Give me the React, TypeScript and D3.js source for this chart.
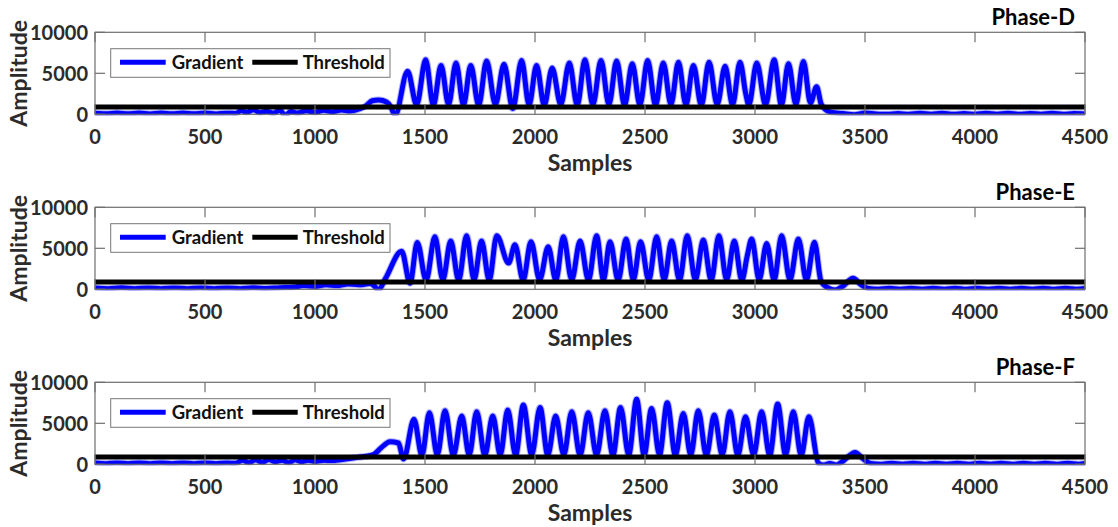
import React from 'react';
import * as d3 from 'd3';

// Axis ticks and reference level
const SAMPLE_TICKS = [0, 500, 1000, 1500, 2000, 2500, 3000, 3500, 4000, 4500];
const AMPLITUDE_TICKS = [0, 5000, 10000];
const THRESHOLD = 900;
const PHASE_NAMES = ['Phase-D', 'Phase-E', 'Phase-F'];

type Pt = [number, number];

// Gradient of the phase-D signal: [sample, amplitude]
const phaseD: Pt[] = [
  [0, 120], [50, 60], [100, 160], [150, 60], [200, 150], [250, 50], [300, 150], [350, 60],
  [400, 160], [450, 60], [500, 150], [550, 50], [600, 140], [640, 100], [665, 450], [690, 250],
  [720, 550], [750, 200], [780, 380], [810, 120], [840, 500], [865, -150], [890, 350], [920, 150],
  [960, 420], [1000, 250], [1040, 480], [1080, 300], [1120, 520], [1160, 400], [1200, 650],
  [1230, 1000], [1260, 1650], [1290, 1750], [1325, 1500], [1345, 900], [1364, -150],
  [1421, 5250], [1462, 1150], [1503, 6650], [1538, 1100], [1573, 5950], [1607, 1200],
  [1641, 6250], [1675, 1150], [1708, 5950], [1744, 1100], [1780, 6500], [1820, 1200],
  [1859, 6100], [1899, 700], [1939, 6550], [1973, 1150], [2007, 5950], [2042, 1100],
  [2078, 5650], [2117, 1200], [2156, 6250], [2192, 1100], [2227, 6650], [2263, 1150],
  [2300, 6550], [2336, 1200], [2371, 6500], [2407, 1100], [2442, 6150], [2477, 1150],
  [2512, 6550], [2548, 1100], [2583, 6250], [2618, 1200], [2652, 6350], [2686, 1150],
  [2720, 5950], [2756, 1100], [2791, 6350], [2828, 1200], [2864, 5850], [2898, 1150],
  [2932, 6350], [2958, 2500], [2972, 1150], [3008, 6250], [3048, 1150], [3087, 6650],
  [3120, 1100], [3152, 6150], [3186, 1200], [3220, 6450], [3252, 1400], [3280, 3350],
  [3300, 1300], [3320, 600], [3345, 250], [3400, 100], [3450, -50], [3500, 150], [3550, 50],
  [3600, 0], [3650, 100], [3700, 0], [3750, 120], [3800, 20], [3850, 130], [3900, 0],
  [3950, 100], [4000, 0], [4050, 120], [4100, 20], [4150, 120], [4200, 0], [4250, 100],
  [4300, 20], [4350, 120], [4400, 0], [4450, 100], [4500, 50],
];

// Gradient of the phase-E signal
const phaseE: Pt[] = [
  [0, 150], [60, 80], [120, 180], [180, 80], [240, 170], [300, 70], [360, 160], [420, 80],
  [480, 170], [540, 70], [600, 160], [660, 80], [720, 180], [780, 100], [840, 200], [900, 250],
  [950, 450], [1000, 350], [1050, 550], [1100, 450], [1150, 650], [1200, 550], [1250, 700],
  [1270, 400], [1288, -100], [1320, 1300], [1394, 4650], [1432, 750], [1465, 5720],
  [1505, 1100], [1545, 6400], [1581, 1150], [1617, 5880], [1653, 1100], [1689, 6530],
  [1723, 1150], [1757, 5880], [1792, 1100], [1826, 6530], [1880, 3200], [1909, 5430],
  [1946, 1100], [1982, 5800], [2021, 1150], [2060, 5190], [2095, 1100], [2129, 6410],
  [2167, 1150], [2205, 5880], [2243, 1100], [2280, 6530], [2311, 1150], [2341, 5800],
  [2378, 1100], [2414, 6130], [2447, 1150], [2480, 5800], [2517, 1100], [2553, 6410],
  [2587, 1150], [2621, 5880], [2657, 1100], [2692, 6530], [2729, 1150], [2765, 6000],
  [2801, 1100], [2836, 6530], [2871, 1150], [2906, 5880], [2940, 1100], [2965, 4100],
  [2985, 6130], [3019, 1150], [3053, 5600], [3087, 1100], [3121, 6530], [3159, 1150],
  [3197, 6130], [3234, 1100], [3270, 5750], [3300, 1000], [3330, 200], [3364, -100],
  [3400, 400], [3446, 1350], [3480, 600], [3515, 100], [3560, 0], [3610, 120], [3660, 20],
  [3710, 130], [3760, 10], [3810, 120], [3860, 20], [3910, 130], [3960, 0], [4010, 120],
  [4060, 20], [4110, 130], [4160, 10], [4210, 120], [4260, 20], [4310, 130], [4360, 0],
  [4410, 120], [4460, 20], [4500, 100],
];

// Gradient of the phase-F signal
const phaseF: Pt[] = [
  [0, 150], [50, 80], [100, 170], [150, 70], [200, 160], [250, 70], [300, 170], [350, 80],
  [400, 160], [450, 70], [500, 170], [550, 80], [600, 160], [640, 120], [670, 500], [700, 200],
  [730, 550], [760, 250], [790, 600], [820, 300], [850, 500], [880, 200], [910, 550],
  [940, 300], [970, 500], [1000, 350], [1040, 500], [1080, 450], [1114, 560], [1180, 800],
  [1265, 1170], [1300, 2000], [1341, 2750], [1379, 2600], [1403, 650], [1450, 5480],
  [1486, 1100], [1520, 6290], [1556, 1150], [1591, 6530], [1629, 1100], [1667, 5880],
  [1701, 1150], [1735, 6410], [1772, 1100], [1808, 5880], [1842, 1150], [1876, 6610],
  [1912, 1100], [1947, 7230], [1985, 1150], [2023, 6940], [2058, 1100], [2094, 5880],
  [2131, 1150], [2167, 6410], [2205, 1100], [2242, 6290], [2280, 1150], [2318, 6530],
  [2354, 1100], [2389, 6940], [2426, 1150], [2462, 7920], [2496, 1100], [2530, 6820],
  [2566, 1150], [2601, 7510], [2638, 1100], [2674, 6200], [2708, 1150], [2742, 6530],
  [2779, 1100], [2815, 6000], [2851, 1150], [2886, 6410], [2922, 1100], [2957, 5800],
  [2994, 1150], [3030, 6410], [3067, 1100], [3103, 7350], [3139, 1150], [3174, 6410],
  [3210, 1100], [3245, 5800], [3288, 150], [3310, -100], [3340, 100], [3370, -80],
  [3400, 400], [3455, 1450], [3490, 700], [3525, 100], [3570, 0], [3620, 130], [3670, 20],
  [3720, 120], [3770, 0], [3820, 130], [3870, 20], [3920, 120], [3970, 0], [4020, 130],
  [4070, 20], [4120, 120], [4170, 0], [4220, 130], [4270, 20], [4320, 120], [4370, 0],
  [4420, 130], [4470, 20], [4500, 100],
];

const SERIES: Pt[][] = [phaseD, phaseE, phaseF];

const W = 1118;
const H = 527;
const LEFT = 95;
const RIGHT = 1085;
const TOP0 = 32.3;
const PANEL_H = 82;
const STEP = 175;
const FONT = 'Lato, "Open Sans", sans-serif';
const AXIS_COLOR = '#6e6e6e';
const TEXT_COLOR = '#2b2b2b';
const TICK_LEN = 10;

function Panel({ index }: { index: number }) {
  const top = TOP0 + index * STEP;
  const bottom = top + PANEL_H;
  const data = SERIES[index];
  const x = d3.scaleLinear().domain([0, 4500]).range([LEFT, RIGHT]);
  const y = d3.scaleLinear().domain([0, 10000]).range([bottom, top]);
  const line = d3
    .line<Pt>()
    .x((d) => x(d[0]))
    .y((d) => y(d[1]))
    .curve(d3.curveMonotoneX);
  const clipId = `clip-${index}`;
  const legTop = top + 16.4;
  const legY = top + 30;
  const path = line(data) ?? '';

  return (
    <g>
      <defs>
        <clipPath id={clipId}>
          <rect x={LEFT} y={top - 2} width={RIGHT - LEFT} height={PANEL_H + 3} />
        </clipPath>
      </defs>
      <rect x={LEFT} y={top} width={RIGHT - LEFT} height={PANEL_H} fill="#fff" />
      <g clipPath={`url(#${clipId})`}>
        <path d={path} fill="none" stroke="#0000ff" strokeOpacity={0.3} strokeWidth={7} strokeLinejoin="round" />
        <path d={path} fill="none" stroke="#0000ff" strokeWidth={5} strokeLinejoin="round" />
        <line x1={LEFT} x2={RIGHT} y1={y(THRESHOLD)} y2={y(THRESHOLD)} stroke="#000" strokeWidth={5} />
      </g>
      {/* axes box */}
      <rect x={LEFT} y={top} width={RIGHT - LEFT} height={PANEL_H} fill="none" stroke={AXIS_COLOR} strokeWidth={1.2} />
      {SAMPLE_TICKS.map((t) => (
        <g key={`xt${t}`}>
          <line x1={x(t)} x2={x(t)} y1={bottom} y2={bottom - TICK_LEN} stroke={AXIS_COLOR} strokeWidth={1.2} />
          <line x1={x(t)} x2={x(t)} y1={top} y2={top + TICK_LEN} stroke={AXIS_COLOR} strokeWidth={1.2} />
          <text x={x(t)} y={bottom + 29.5} textAnchor="middle" fontFamily={FONT} fontWeight="bold" fontSize={20} fill={TEXT_COLOR}>
            {t}
          </text>
        </g>
      ))}
      {AMPLITUDE_TICKS.map((t) => (
        <g key={`yt${t}`}>
          <line x1={LEFT} x2={LEFT + TICK_LEN} y1={y(t)} y2={y(t)} stroke={AXIS_COLOR} strokeWidth={1.2} />
          <line x1={RIGHT} x2={RIGHT - TICK_LEN} y1={y(t)} y2={y(t)} stroke={AXIS_COLOR} strokeWidth={1.2} />
          <text x={88} y={y(t) + 7.2} textAnchor="end" fontFamily={FONT} fontWeight="bold" fontSize={20} fill={TEXT_COLOR}>
            {t}
          </text>
        </g>
      ))}
      <text
        transform={`translate(${27},${top + PANEL_H / 2}) rotate(-90)`}
        textAnchor="middle"
        fontFamily={FONT}
        fontWeight="bold"
        fontSize={23}
        fill={TEXT_COLOR}
      >
        Amplitude
      </text>
      <text x={(LEFT + RIGHT) / 2} y={top + 139} textAnchor="middle" fontFamily={FONT} fontWeight="bold" fontSize={23} fill={TEXT_COLOR}>
        Samples
      </text>
      <text x={1075} y={top - 7} textAnchor="end" fontFamily={FONT} fontWeight="bold" fontSize={22} fill="#000">
        {PHASE_NAMES[index]}
      </text>
      {/* legend */}
      <rect x={110.7} y={legTop} width={279.3} height={28.6} fill="#fff" stroke="#777" strokeWidth={1} />
      <line x1={120} x2={165.7} y1={legY} y2={legY} stroke="#0000ff" strokeWidth={5} />
      <text x={171.7} y={legY + 6.3} fontFamily={FONT} fontWeight="bold" fontSize={18.5} fill="#111">
        Gradient
      </text>
      <line x1={252.3} x2={297.7} y1={legY} y2={legY} stroke="#000" strokeWidth={5} />
      <text x={302.7} y={legY + 6.3} fontFamily={FONT} fontWeight="bold" fontSize={18.5} fill="#111">
        Threshold
      </text>
    </g>
  );
}

export default function App() {
  return (
    <svg
      width={W}
      height={H}
      viewBox={`0 0 ${W} ${H}`}
      style={{ position: 'absolute', left: 0, top: 0, background: '#fff' }}
    >
      <rect width={W} height={H} fill="#fff" />
      {[0, 1, 2].map((i) => (
        <Panel key={i} index={i} />
      ))}
    </svg>
  );
}
